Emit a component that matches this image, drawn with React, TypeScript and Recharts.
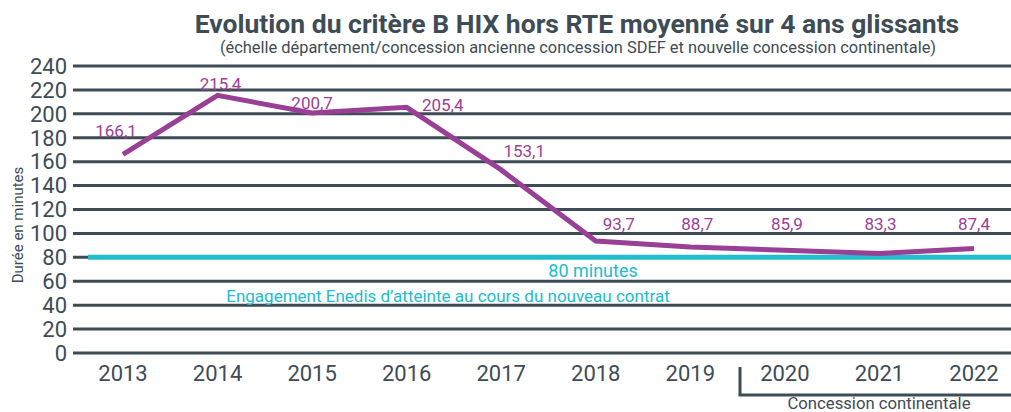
import { LineChart, Line, XAxis, YAxis, CartesianGrid, ReferenceLine, LabelList } from "recharts";

const years = ["2013", "2014", "2015", "2016", "2017", "2018", "2019", "2020", "2021", "2022"];
const critereB = [166.1, 215.4, 200.7, 205.4, 153.1, 93.7, 88.7, 85.9, 83.3, 87.4];
const yTicks = [0, 20, 40, 60, 80, 100, 120, 140, 160, 180, 200, 220, 240];
const objectif = 80;

// label nudges (px) so the values sit like in the original
const labelDx = [-7, 3, 0, 36, 23, 23, 7, 2, 1, 0];
const labelDy = [-3, 9, 10, 18, 1, 3, -3, -6, -9, -4];

const data = years.map((year, i) => ({ year, value: critereB[i] }));

const GRID = "#3e4c55";
const PURPLE = "#9a3f96";
const CYAN = "#22bccd";
const FONT = "Roboto, 'Noto Sans', sans-serif";

function ValueLabel(props: any) {
  const { x, y, value, index } = props;
  return (
    <text
      x={x + labelDx[index]}
      y={y - 14 + labelDy[index]}
      textAnchor="middle"
      fill={PURPLE}
      fontSize={17}
      fontFamily={FONT}
    >
      {String(value).replace(".", ",")}
    </text>
  );
}

function TargetLine(props: any) {
  const { x1, x2, y1 } = props;
  return <line x1={x1 + 15} x2={x2} y1={y1} y2={y1} stroke={CYAN} strokeWidth={5} />;
}

export default function App() {
  return (
    <div style={{ position: "relative", width: 1011, height: 412, overflow: "hidden", background: "#fff", fontFamily: FONT }}>
      <style>{`body{margin:0}`}</style>
      <LineChart width={1011} height={412} data={data} margin={{ top: 66, right: 0, left: 13, bottom: 29 }}>
        <CartesianGrid vertical={false} stroke={GRID} strokeWidth={3} />
        <XAxis
          dataKey="year"
          axisLine={false}
          tickLine={false}
          height={30}
          padding={{ left: 50, right: 37 }}
          tick={{ fill: GRID, fontSize: 22, fontFamily: FONT }}
          tickMargin={6}
        />
        <YAxis
          domain={[0, 240]}
          ticks={yTicks}
          interval={0}
          axisLine={false}
          tickLine={false}
          width={60}
          tick={{ fill: GRID, fontSize: 22, fontFamily: FONT }}
          tickMargin={0}
        />
        <ReferenceLine y={objectif} shape={<TargetLine />} />
        <Line
          dataKey="value"
          stroke={PURPLE}
          strokeWidth={5}
          dot={false}
          isAnimationActive={false}
        >
          <LabelList dataKey="value" content={<ValueLabel />} />
        </Line>
      </LineChart>

      <svg width={1011} height={412} style={{ position: "absolute", left: 0, top: 0, pointerEvents: "none" }}>
        <text x={577} y={33} textAnchor="middle" fill={GRID} fontSize={26.5} fontWeight={700} fontFamily={FONT}>
          Evolution du critère B HIX hors RTE moyenné sur 4 ans glissants
        </text>
        <text x={578} y={53} textAnchor="middle" fill={GRID} fontSize={16.4} fontFamily={FONT}>
          (échelle département/concession ancienne concession SDEF et nouvelle concession continentale)
        </text>
        <text
          x={0}
          y={0}
          transform="translate(23,225) rotate(-90)"
          textAnchor="middle"
          fill={GRID}
          fontSize={15}
          fontFamily={FONT}
        >
          Durée en minutes
        </text>
        <text x={593} y={277} textAnchor="middle" fill={CYAN} fontSize={18} fontFamily={FONT}>
          80 minutes
        </text>
        <text x={448} y={302} textAnchor="middle" fill={CYAN} fontSize={17} fontFamily={FONT}>
          Engagement Enedis d’atteinte au cours du nouveau contrat
        </text>
        <polyline points="740,367 740,395 1011,395" fill="none" stroke={GRID} strokeWidth={3} />
        <text x={879} y={409} textAnchor="middle" fill={GRID} fontSize={16.7} fontFamily={FONT}>
          Concession continentale
        </text>
      </svg>
    </div>
  );
}
